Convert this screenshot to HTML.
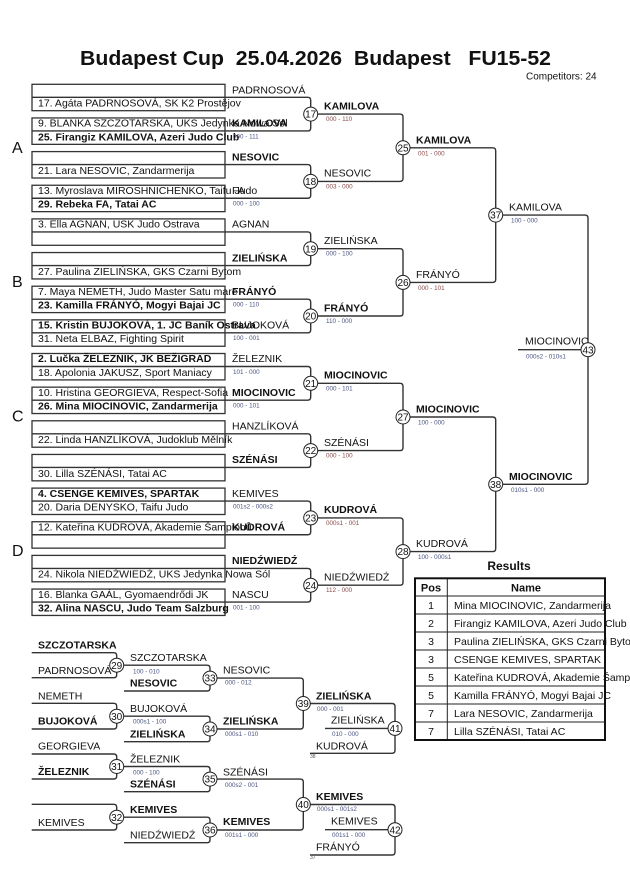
<!DOCTYPE html>
<html>
<head>
<meta charset="utf-8">
<style>
html,body{margin:0;padding:0;background:#fff;}
svg{display:block;}
text{font-family:"Liberation Sans",Arial,sans-serif;}
.n{font-size:10.5px;fill:#111;}
.b{font-size:10.5px;font-weight:bold;fill:#111;}
.s{font-size:6.3px;fill:#4a5480;}
.r{font-size:6.3px;fill:#8a4a4a;}
.t{font-size:5px;fill:#555;}
.cn{font-size:10px;fill:#111;text-anchor:middle;}
.ln{stroke:#333;stroke-width:1.4;fill:none;}
.bx{stroke:#333;stroke-width:1.3;fill:none;}
.ci{fill:#fff;stroke:#222;stroke-width:1;}
</style>
</head>
<body>
<svg width="630" height="891" viewBox="0 0 630 891" xmlns="http://www.w3.org/2000/svg">
<rect x="0" y="0" width="630" height="891" fill="#fff"/>

<!-- Title -->
<text x="80" y="65" font-size="20" font-weight="bold" fill="#111" textLength="471" lengthAdjust="spacingAndGlyphs" xml:space="preserve">Budapest Cup  25.04.2026  Budapest   FU15-52</text>
<text x="526" y="79.5" font-size="10" fill="#111">Competitors: 24</text>

<!-- Pool letters -->
<text x="12" y="153" font-size="16" fill="#111">A</text>
<text x="12" y="287" font-size="16" fill="#111">B</text>
<text x="12" y="421.5" font-size="16" fill="#111">C</text>
<text x="12" y="556" font-size="16" fill="#111">D</text>

<!-- Boxes -->
<g class="bx">
<rect x="32" y="84.3" width="193" height="26.4"/>
<rect x="32" y="117.95" width="193" height="26.4"/>
<rect x="32" y="151.6" width="193" height="26.4"/>
<rect x="32" y="185.25" width="193" height="26.4"/>
<rect x="32" y="218.9" width="193" height="26.4"/>
<rect x="32" y="252.55" width="193" height="26.4"/>
<rect x="32" y="286.2" width="193" height="26.4"/>
<rect x="32" y="319.85" width="193" height="26.4"/>
<rect x="32" y="353.5" width="193" height="26.4"/>
<rect x="32" y="387.15" width="193" height="26.4"/>
<rect x="32" y="420.8" width="193" height="26.4"/>
<rect x="32" y="454.45" width="193" height="26.4"/>
<rect x="32" y="488.1" width="193" height="26.4"/>
<rect x="32" y="521.75" width="193" height="26.4"/>
<rect x="32" y="555.4" width="193" height="26.4"/>
<rect x="32" y="589.05" width="193" height="26.4"/>
</g>

<!-- Main bracket lines -->
<g class="ln">
<path d="M32 97.3 H307.7 Q310.7 97.3 310.7 100.3 V127.95 Q310.7 130.95 307.7 130.95 H32"/>
<path d="M32 164.6 H307.7 Q310.7 164.6 310.7 167.6 V195.25 Q310.7 198.25 307.7 198.25 H32"/>
<path d="M32 231.9 H307.7 Q310.7 231.9 310.7 234.9 V262.55 Q310.7 265.55 307.7 265.55 H32"/>
<path d="M32 299.2 H307.7 Q310.7 299.2 310.7 302.2 V329.85 Q310.7 332.85 307.7 332.85 H32"/>
<path d="M32 366.5 H307.7 Q310.7 366.5 310.7 369.5 V397.15 Q310.7 400.15 307.7 400.15 H32"/>
<path d="M32 433.8 H307.7 Q310.7 433.8 310.7 436.8 V464.45 Q310.7 467.45 307.7 467.45 H32"/>
<path d="M32 501.1 H307.7 Q310.7 501.1 310.7 504.1 V531.75 Q310.7 534.75 307.7 534.75 H32"/>
<path d="M32 568.4 H307.7 Q310.7 568.4 310.7 571.4 V599.05 Q310.7 602.05 307.7 602.05 H32"/>

<path d="M310.7 114.1 H400 Q403 114.1 403 117.1 V178.4 Q403 181.4 400 181.4 H310.7"/>
<path d="M310.7 248.7 H400 Q403 248.7 403 251.7 V313 Q403 316 400 316 H310.7"/>
<path d="M310.7 383.3 H400 Q403 383.3 403 386.3 V447.6 Q403 450.6 400 450.6 H310.7"/>
<path d="M310.7 517.9 H400 Q403 517.9 403 520.9 V582.2 Q403 585.2 400 585.2 H310.7"/>

<path d="M403 147.8 H492.7 Q495.7 147.8 495.7 150.8 V279.4 Q495.7 282.4 492.7 282.4 H403"/>
<path d="M403 417 H492.7 Q495.7 417 495.7 420 V548.6 Q495.7 551.6 492.7 551.6 H403"/>

<path d="M495.7 215.1 H585 Q588 215.1 588 218.1 V481.3 Q588 484.3 585 484.3 H495.7"/>
<path d="M518 349.7 H588"/>

<!-- Repechage -->
<path d="M31.7 652.7 H113.7 Q116.7 652.7 116.7 655.7 V674.7 Q116.7 677.7 113.7 677.7 H31.7"/>
<path d="M31.7 703.3 H113.7 Q116.7 703.3 116.7 706.3 V726 Q116.7 729 113.7 729 H31.7"/>
<path d="M31.7 754 H113.7 Q116.7 754 116.7 757 V776 Q116.7 779 113.7 779 H31.7"/>
<path d="M31.7 804.3 H113.7 Q116.7 804.3 116.7 807.3 V827 Q116.7 830 113.7 830 H31.7"/>

<path d="M116.7 665.2 H207 Q210 665.2 210 668.2 V688 Q210 691 207 691 H124"/>
<path d="M116.7 716.2 H207 Q210 716.2 210 719.2 V738.7 Q210 741.7 207 741.7 H124"/>
<path d="M116.7 766.5 H207 Q210 766.5 210 769.5 V788.7 Q210 791.7 207 791.7 H124"/>
<path d="M116.7 817.2 H207 Q210 817.2 210 820.2 V839.7 Q210 842.7 207 842.7 H124"/>

<path d="M210 678.1 H300.3 Q303.3 678.1 303.3 681.1 V726 Q303.3 729 300.3 729 H210"/>
<path d="M210 779.1 H300.3 Q303.3 779.1 303.3 782.1 V827 Q303.3 830 300.3 830 H210"/>

<path d="M303.3 703.5 H392 Q395 703.5 395 706.5 V750.3 Q395 753.3 392 753.3 H310"/>
<path d="M325 728.4 H395"/>
<path d="M303.3 804.5 H392 Q395 804.5 395 807.5 V852 Q395 855 392 855 H310"/>
<path d="M325 829.7 H395"/>
</g>

<!-- Box rows -->
<text class="n" x="38" y="106.6">17. Agáta PADRNOSOVÁ, SK K2 Prostějov</text>
<text class="n" x="38" y="126.65">9. BLANKA SZCZOTARSKA, UKS Jedynka Nowa Sól</text>
<text class="b" x="38" y="140.25">25. Firangiz KAMILOVA, Azeri Judo Club</text>
<text class="n" x="38" y="173.9">21. Lara NESOVIC, Zandarmerija</text>
<text class="n" x="38" y="193.95">13. Myroslava MIROSHNICHENKO, Taifu Judo</text>
<text class="b" x="38" y="207.55">29. Rebeka FA, Tatai AC</text>
<text class="n" x="38" y="227.6">3. Ella AGNAN, USK Judo Ostrava</text>
<text class="n" x="38" y="274.85">27. Paulina ZIELIŃSKA, GKS Czarni Bytom</text>
<text class="n" x="38" y="294.9">7. Maya NEMETH, Judo Master Satu mare</text>
<text class="b" x="38" y="308.5">23. Kamilla FRÁNYÓ, Mogyi Bajai JC</text>
<text class="b" x="38" y="328.55">15. Kristin BUJOKOVÁ, 1. JC Baník Ostrava</text>
<text class="n" x="38" y="342.15">31. Neta ELBAZ, Fighting Spirit</text>
<text class="b" x="38" y="362.2">2. Lučka ŽELEZNIK, JK BEŽIGRAD</text>
<text class="n" x="38" y="375.8">18. Apolonia JAKUSZ, Sport Maniacy</text>
<text class="n" x="38" y="395.85">10. Hristina GEORGIEVA, Respect-Sofia</text>
<text class="b" x="38" y="409.45">26. Mina MIOCINOVIC, Zandarmerija</text>
<text class="n" x="38" y="443.1">22. Linda HANZLÍKOVÁ, Judoklub Mělník</text>
<text class="n" x="38" y="476.75">30. Lilla SZÉNÁSI, Tatai AC</text>
<text class="b" x="38" y="496.8">4. CSENGE KEMIVES, SPARTAK</text>
<text class="n" x="38" y="510.4">20. Daria DENYSKO, Taifu Judo</text>
<text class="n" x="38" y="530.45">12. Kateřina KUDROVÁ, Akademie Šampionů</text>
<text class="n" x="38" y="577.7">24. Nikola NIEDŹWIEDŹ, UKS Jedynka Nowa Sól</text>
<text class="n" x="38" y="597.75">16. Blanka GAÁL, Gyomaendrődi JK</text>
<text class="b" x="38" y="611.35">32. Alina NASCU, Judo Team Salzburg</text>

<!-- Round 1 labels -->
<text class="n" x="232" y="93.5">PADRNOSOVÁ</text>
<text class="b" x="232" y="126.65">KAMILOVA</text>
<text class="b" x="232" y="160.3">NESOVIC</text>
<text class="n" x="232" y="193.95">FA</text>
<text class="n" x="232" y="227.6">AGNAN</text>
<text class="b" x="232" y="261.25">ZIELIŃSKA</text>
<text class="b" x="232" y="294.9">FRÁNYÓ</text>
<text class="n" x="232" y="328.55">BUJOKOVÁ</text>
<text class="n" x="232" y="362.2">ŽELEZNIK</text>
<text class="b" x="232" y="395.85">MIOCINOVIC</text>
<text class="n" x="232" y="429.5">HANZLÍKOVÁ</text>
<text class="b" x="232" y="463.15">SZÉNÁSI</text>
<text class="n" x="232" y="496.8">KEMIVES</text>
<text class="b" x="232" y="530.45">KUDROVÁ</text>
<text class="b" x="232" y="564.1">NIEDŹWIEDŹ</text>
<text class="n" x="232" y="597.75">NASCU</text>

<!-- Round 1 scores -->
<text class="s" x="233" y="138.3">000 - 111</text>
<text class="s" x="233" y="205.6">000 - 100</text>
<text class="s" x="233" y="306.5">000 - 110</text>
<text class="s" x="233" y="340.2">100 - 001</text>
<text class="s" x="233" y="373.8">101 - 000</text>
<text class="s" x="233" y="407.5">000 - 101</text>
<text class="s" x="233" y="508.4">001s2 - 000s2</text>
<text class="s" x="233" y="609.4">001 - 100</text>

<!-- Round 2 labels -->
<text class="b" x="324" y="109.4">KAMILOVA</text>
<text class="r" x="326" y="121.1">000 - 110</text>
<text class="n" x="324" y="176.7">NESOVIC</text>
<text class="r" x="326" y="188.4">003 - 000</text>
<text class="n" x="324" y="244">ZIELIŃSKA</text>
<text class="s" x="326" y="255.7">000 - 100</text>
<text class="b" x="324" y="311.3">FRÁNYÓ</text>
<text class="s" x="326" y="323">110 - 000</text>
<text class="b" x="324" y="378.6">MIOCINOVIC</text>
<text class="s" x="326" y="390.3">000 - 101</text>
<text class="n" x="324" y="445.9">SZÉNÁSI</text>
<text class="r" x="326" y="457.6">000 - 100</text>
<text class="b" x="324" y="513.2">KUDROVÁ</text>
<text class="r" x="326" y="524.9">000s1 - 001</text>
<text class="n" x="324" y="580.5">NIEDŹWIEDŹ</text>
<text class="r" x="326" y="592.2">112 - 000</text>

<!-- Round 3 labels -->
<text class="b" x="416" y="143.3">KAMILOVA</text>
<text class="r" x="418" y="155.3">001 - 000</text>
<text class="n" x="416" y="277.9">FRÁNYÓ</text>
<text class="r" x="418" y="289.9">000 - 101</text>
<text class="b" x="416" y="412.5">MIOCINOVIC</text>
<text class="s" x="418" y="424.5">100 - 000</text>
<text class="n" x="416" y="547.1">KUDROVÁ</text>
<text class="s" x="418" y="559.1">100 - 000s1</text>

<!-- Round 4 labels -->
<text class="n" x="509" y="210.6">KAMILOVA</text>
<text class="s" x="511" y="222.3">100 - 000</text>
<text class="b" x="509" y="479.8">MIOCINOVIC</text>
<text class="s" x="511" y="491.8">010s1 - 000</text>

<!-- Final -->
<text class="n" x="525" y="344.5">MIOCINOVIC</text>
<text class="s" x="526" y="358.3">000s2 - 010s1</text>

<!-- Repechage labels -->
<text class="b" x="38" y="648.5">SZCZOTARSKA</text>
<text class="n" x="38" y="673.8">PADRNOSOVÁ</text>
<text class="n" x="38" y="699.5">NEMETH</text>
<text class="b" x="38" y="724.6">BUJOKOVÁ</text>
<text class="n" x="38" y="749.7">GEORGIEVA</text>
<text class="b" x="38" y="774.8">ŽELEZNIK</text>
<text class="n" x="38" y="825.8">KEMIVES</text>

<text class="n" x="130" y="661">SZCZOTARSKA</text>
<text class="s" x="133" y="673.3">100 - 010</text>
<text class="b" x="130" y="686.7">NESOVIC</text>
<text class="n" x="130" y="711.8">BUJOKOVÁ</text>
<text class="s" x="133" y="723.4">000s1 - 100</text>
<text class="b" x="130" y="737.4">ZIELIŃSKA</text>
<text class="n" x="130" y="762.4">ŽELEZNIK</text>
<text class="s" x="133" y="774.4">000 - 100</text>
<text class="b" x="130" y="787.4">SZÉNÁSI</text>
<text class="b" x="130" y="812.8">KEMIVES</text>
<text class="n" x="130" y="838.6">NIEDŹWIEDŹ</text>

<text class="n" x="223" y="673.5">NESOVIC</text>
<text class="s" x="225" y="684.6">000 - 012</text>
<text class="b" x="223" y="724.4">ZIELIŃSKA</text>
<text class="s" x="225" y="736">000s1 - 010</text>
<text class="n" x="223" y="775.6">SZÉNÁSI</text>
<text class="s" x="225" y="786.8">000s2 - 001</text>
<text class="b" x="223" y="825.2">KEMIVES</text>
<text class="s" x="225" y="836.8">001s1 - 000</text>

<text class="b" x="316" y="699.3">ZIELIŃSKA</text>
<text class="s" x="317" y="711">000 - 001</text>
<text class="n" x="316" y="749.3">KUDROVÁ</text>
<text class="t" x="310" y="758">38</text>
<text class="b" x="316" y="800.2">KEMIVES</text>
<text class="s" x="317" y="811.2">000s1 - 001s2</text>
<text class="n" x="316" y="850.7">FRÁNYÓ</text>
<text class="t" x="310" y="859">37</text>

<text class="n" x="331" y="723.6">ZIELIŃSKA</text>
<text class="s" x="332" y="736">010 - 000</text>
<text class="n" x="331" y="824.6">KEMIVES</text>
<text class="s" x="332" y="836.8">001s1 - 000</text>

<!-- Circles -->
<g class="ci">
<circle cx="310.7" cy="114.1" r="7"/>
<circle cx="310.7" cy="181.4" r="7"/>
<circle cx="310.7" cy="248.7" r="7"/>
<circle cx="310.7" cy="316" r="7"/>
<circle cx="310.7" cy="383.3" r="7"/>
<circle cx="310.7" cy="450.6" r="7"/>
<circle cx="310.7" cy="517.9" r="7"/>
<circle cx="310.7" cy="585.2" r="7"/>
<circle cx="403" cy="147.8" r="7"/>
<circle cx="403" cy="282.4" r="7"/>
<circle cx="403" cy="417" r="7"/>
<circle cx="403" cy="551.6" r="7"/>
<circle cx="495.7" cy="215.1" r="7"/>
<circle cx="495.7" cy="484.3" r="7"/>
<circle cx="588" cy="349.7" r="7"/>
<circle cx="116.7" cy="665.2" r="7"/>
<circle cx="116.7" cy="716.2" r="7"/>
<circle cx="116.7" cy="766.5" r="7"/>
<circle cx="116.7" cy="817.2" r="7"/>
<circle cx="210" cy="678.1" r="7"/>
<circle cx="210" cy="729" r="7"/>
<circle cx="210" cy="779.1" r="7"/>
<circle cx="210" cy="830" r="7"/>
<circle cx="303.3" cy="703.5" r="7"/>
<circle cx="303.3" cy="804.5" r="7"/>
<circle cx="395" cy="728.4" r="7"/>
<circle cx="395" cy="829.7" r="7"/>
</g>
<g>
<text class="cn" x="310.7" y="117.7">17</text>
<text class="cn" x="310.7" y="185">18</text>
<text class="cn" x="310.7" y="252.3">19</text>
<text class="cn" x="310.7" y="319.6">20</text>
<text class="cn" x="310.7" y="386.9">21</text>
<text class="cn" x="310.7" y="454.2">22</text>
<text class="cn" x="310.7" y="521.5">23</text>
<text class="cn" x="310.7" y="588.8">24</text>
<text class="cn" x="403" y="151.4">25</text>
<text class="cn" x="403" y="286">26</text>
<text class="cn" x="403" y="420.6">27</text>
<text class="cn" x="403" y="555.2">28</text>
<text class="cn" x="495.7" y="218.7">37</text>
<text class="cn" x="495.7" y="487.9">38</text>
<text class="cn" x="588" y="353.3">43</text>
<text class="cn" x="116.7" y="668.8">29</text>
<text class="cn" x="116.7" y="719.8">30</text>
<text class="cn" x="116.7" y="770.1">31</text>
<text class="cn" x="116.7" y="820.8">32</text>
<text class="cn" x="210" y="681.7">33</text>
<text class="cn" x="210" y="732.6">34</text>
<text class="cn" x="210" y="782.7">35</text>
<text class="cn" x="210" y="833.6">36</text>
<text class="cn" x="303.3" y="707.1">39</text>
<text class="cn" x="303.3" y="808.1">40</text>
<text class="cn" x="395" y="732">41</text>
<text class="cn" x="395" y="833.3">42</text>
</g>

<!-- Results table -->
<text x="509" y="570" font-size="12" font-weight="bold" fill="#111" text-anchor="middle">Results</text>
<g stroke="#222" stroke-width="1" fill="none">
<line x1="415" y1="596" x2="605" y2="596"/>
<line x1="415" y1="614" x2="605" y2="614"/>
<line x1="415" y1="632" x2="605" y2="632"/>
<line x1="415" y1="650" x2="605" y2="650"/>
<line x1="415" y1="668" x2="605" y2="668"/>
<line x1="415" y1="686" x2="605" y2="686"/>
<line x1="415" y1="704" x2="605" y2="704"/>
<line x1="415" y1="722" x2="605" y2="722"/>
<line x1="447.3" y1="578.3" x2="447.3" y2="740"/>
</g>
<rect x="415" y="578.3" width="190" height="161.7" fill="none" stroke="#111" stroke-width="2"/>
<text x="431" y="591.5" font-size="11" font-weight="bold" fill="#111" text-anchor="middle">Pos</text>
<text x="526" y="591.5" font-size="11" font-weight="bold" fill="#111" text-anchor="middle">Name</text>
<g class="n" text-anchor="middle">
<text class="n" x="431" y="609">1</text>
<text class="n" x="431" y="627">2</text>
<text class="n" x="431" y="645">3</text>
<text class="n" x="431" y="663">3</text>
<text class="n" x="431" y="681">5</text>
<text class="n" x="431" y="699">5</text>
<text class="n" x="431" y="717">7</text>
<text class="n" x="431" y="735">7</text>
</g>
<text class="n" x="454" y="609">Mina MIOCINOVIC, Zandarmerija</text>
<text class="n" x="454" y="627">Firangiz KAMILOVA, Azeri Judo Club</text>
<text class="n" x="454" y="645">Paulina ZIELIŃSKA, GKS Czarni Bytom</text>
<text class="n" x="454" y="663">CSENGE KEMIVES, SPARTAK</text>
<text class="n" x="454" y="681">Kateřina KUDROVÁ, Akademie Šampionů</text>
<text class="n" x="454" y="699">Kamilla FRÁNYÓ, Mogyi Bajai JC</text>
<text class="n" x="454" y="717">Lara NESOVIC, Zandarmerija</text>
<text class="n" x="454" y="735">Lilla SZÉNÁSI, Tatai AC</text>
</svg>
</body>
</html>
